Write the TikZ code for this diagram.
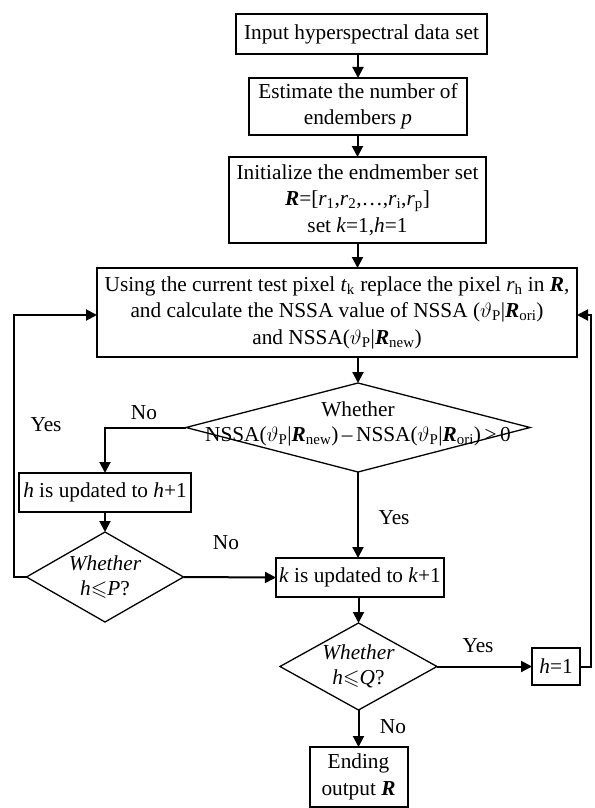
\documentclass[tikz,border=0pt]{standalone}
\usepackage{amssymb}
\usepackage{fontspec}
\setmainfont{Liberation Serif}
\usetikzlibrary{arrows.meta,shapes.geometric}
\newcommand{\bR}{\textbf{\textit{R}}}
\newcommand{\sub}[1]{\textsubscript{#1}}
\begin{document}
\begin{tikzpicture}[x=1pt,y=-1pt,
  every node/.style={font=\fontsize{21.3}{26.5}\selectfont},
  box/.style={draw,line width=1.3pt,align=center,inner sep=0pt,outer sep=0pt},
  dia/.style={draw,line width=1.3pt,shape=diamond,inner sep=0pt,outer sep=0pt},
  conn/.style={line width=2pt,-{Triangle[length=11pt,width=11pt]}},
  lbl/.style={inner sep=0pt},
  dtxt/.style={inner sep=0pt,align=center,font=\fontsize{21.3}{24.5}\selectfont}]
\useasboundingbox (0,0) rectangle (594,808);
\fill[white] (0,0) rectangle (594,808);
\node[box,minimum width=251pt,minimum height=40pt] (b1) at (361.5,34) {Input hyperspectral data set};
\node[box,minimum width=218pt,minimum height=57pt] (b2) at (358,106.5) {Estimate the number of\\endembers \textit{p}};
\node[box,minimum width=257pt,minimum height=86pt] (b3) at (357.5,200) {Initialize the endmember set\\\bR=[\textit{r}\sub{1},\textit{r}\sub{2},\ldots,\textit{r}\sub{i},\textit{r}\sub{p}]\\set \textit{k}=1,\textit{h}=1};
\node[box,minimum width=480pt,minimum height=89pt] (b4) at (337,312.5) {Using the current test pixel \textit{t}\sub{k} replace the pixel \textit{r}\sub{h} in \bR,\\and calculate the NSSA value of NSSA ($\vartheta$\sub{P}|\bR\sub{ori})\\and NSSA($\vartheta$\sub{P}|\bR\sub{new})};
\node[dia,minimum width=344pt,minimum height=89pt] (d1) at (358,427.5) {};
\node[dtxt] (d1t) at (358,424) {Whether\\NSSA($\vartheta$\sub{P}|\bR\sub{new})\,--\,NSSA($\vartheta$\sub{P}|\bR\sub{ori})\,>\,0};
\node[box,minimum width=172pt,minimum height=39pt] (hb) at (105,492.5) {\textit{h} is updated to \textit{h}+1};
\node[dia,minimum width=157pt,minimum height=90pt] (dP) at (105,577) {};
\node[dtxt] (dPt) at (105,577) {\textit{Whether}\\\textit{h}$\leqslant$\textit{P}?};
\node[box,minimum width=168pt,minimum height=39pt] (kb) at (360,577.5) {\textit{k} is updated to \textit{k}+1};
\node[dia,minimum width=157pt,minimum height=87pt] (dQ) at (358.5,666.5) {};
\node[dtxt] (dQt) at (358.5,666.5) {\textit{Whether}\\\textit{h}$\leqslant$\textit{Q}?};
\node[box,line width=2pt,minimum width=98pt,minimum height=60pt] (eb) at (358.5,777) {Ending\\output \bR};
\node[box,minimum width=48pt,minimum height=37pt] (h1) at (556,666.5) {\textit{h}=1};
\coordinate (lx) at (14,315);
\coordinate (rx) at (591,315);
\draw[conn] (b1.south -| b2.north) -- (b2.north);
\draw[conn] (b2.south -| b3.north) -- (b3.north);
\draw[conn] (b3.south) -- (b3.south |- b4.north);
\draw[conn] (b4.south -| d1.north) -- (d1.north);
\draw[conn] (d1.west) -| (hb.north);
\draw[conn] (d1.south) -- (d1.south |- kb.north);
\draw[conn] (hb) -- (dP);
\draw[conn] (dP.east) -- (kb.west);
\draw[conn] (dP.west) -| (lx) -- (lx -| b4.west);
\draw[conn] (kb.south -| dQ.north) -- (dQ.north);
\draw[conn] (dQ.east) -- (h1.west);
\draw[conn] (dQ.south) -- (eb.north);
\draw[conn] (h1.east) -| (rx) -- (rx -| b4.east);
\node[lbl] (n1) at (144,413) {No};
\node[lbl] (y1) at (46,425) {Yes};
\node[lbl] (y2) at (394,518) {Yes};
\node[lbl] (n2) at (226,543) {No};
\node[lbl] (y3) at (478,646) {Yes};
\node[lbl] (n3) at (393,727) {No};
\end{tikzpicture}
\end{document}
